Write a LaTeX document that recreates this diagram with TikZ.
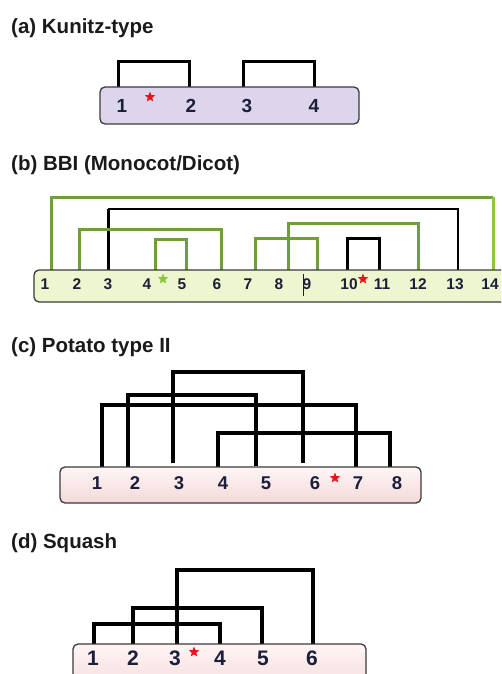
\documentclass[tikz,border=0pt]{standalone}
\usepackage{fontspec}
\setmainfont{Liberation Sans}
\usetikzlibrary{shapes.geometric}
\definecolor{titlecol}{HTML}{1A1A1A}
\definecolor{numcol}{HTML}{1B1F3A}
\definecolor{boxline}{HTML}{3A3A3A}
\definecolor{lilac}{HTML}{DDD5EC}
\definecolor{palegreen}{HTML}{EDF6CF}
\definecolor{blushtop}{HTML}{FFF5F5}
\definecolor{blushbot}{HTML}{F4D9D9}
\definecolor{bondgreen}{HTML}{6F9E3F}
\definecolor{brightgreen}{HTML}{8CC63F}
\definecolor{sitered}{HTML}{E8141C}
\begin{document}
\begin{tikzpicture}[x=1pt,y=-1pt,
  paneltitle/.style={anchor=west,inner sep=0,text=titlecol,
    font=\bfseries\fontsize{20.5}{20.5}\selectfont},
  num/.style={inner sep=0,text=numcol,font=\bfseries\fontsize{#1}{#1}\selectfont},
  num/.default=18,
  chain/.style={draw=boxline,line width=1.3,rounded corners=5,inner sep=0,
    rectangle},
  bond/.style={line width=#1,line join=miter,draw=black},
  bond/.default=3,
  gbond/.style={line width=3,line join=miter,draw=bondgreen},
  sitestar/.style={star,star points=5,star point ratio=2.3,inner sep=0,
    minimum size=#1,fill=sitered},
  sitestar/.default=11,
]
\useasboundingbox (0,0) rectangle (501,674);
\clip (0,0) rectangle (501,674);

% ---------------- (a) Kunitz-type ----------------
\node[paneltitle] (ta) at (11,28) {(a) Kunitz-type};
\coordinate (pa1) at (118,87);
\coordinate (pa2) at (189,87);
\coordinate (pa3) at (243,87);
\coordinate (pa4) at (314,87);
\draw[bond] (pa1) -- (pa1 |- 0,62) -| (pa2);
\draw[bond] (pa3) -- (pa3 |- 0,62) -| (pa4);
\node[chain,fill=lilac,minimum width=259,minimum height=37] (boxa) at (229.5,105.5) {};
\node[num=19] (a1) at (122,106) {1};
\node[num=19] (a2) at (191,106) {2};
\node[num=19] (a3) at (247,106) {3};
\node[num=19] (a4) at (314,106) {4};
\node[sitestar] (sa) at (150,97) {};

% ---------------- (b) BBI ----------------
\node[paneltitle] (tb) at (11,165) {(b) BBI (Monocot/Dicot)};
\coordinate (pb1) at (51,270);
\coordinate (pb2) at (79,270);
\coordinate (pb3) at (108,270);
\coordinate (pb4) at (155,270);
\coordinate (pb5) at (186,270);
\coordinate (pb6) at (221,270);
\coordinate (pb7) at (255,270);
\coordinate (pb8) at (288,270);
\coordinate (pb9) at (317,270);
\coordinate (pb10) at (347,270);
\coordinate (pb11) at (379,270);
\coordinate (pb12) at (418,270);
\coordinate (pb13) at (458,270);
\coordinate (pb14) at (493,270);
% black disulfide bonds
\draw[bond=2.2] (pb3 |- 0,209) -| (pb13);
\draw[bond=3] (pb3) -- (pb3 |- 0,209);
\draw[bond=3] (pb10) -- (pb10 |- 0,238) -| (pb11);
% green disulfide bonds
\draw[gbond] (pb1) -- (pb1 |- 0,197) -- (pb14 |- 0,197);
\draw[gbond,draw=brightgreen] (pb14 |- 0,197) -- (pb14);
\draw[gbond] (pb2) -- (pb2 |- 0,229) -| (pb6);
\draw[gbond] (pb8) -- (pb8 |- 0,223) -| (pb12);
\draw[gbond] (pb7) -- (pb7 |- 0,238) -| (pb9);
\draw[gbond] (pb4) -- (pb4 |- 0,239) -| (pb5);
\node[chain,fill=palegreen,minimum width=486,minimum height=32] (boxb) at (277,286) {};
\foreach \n/\x in {1/45,2/77,3/108,4/147,5/182,6/217,7/248,8/279,9/307,
                   10/349,11/382,12/418,13/455,14/490}
  \node[num=15.5] (b\n) at (\x,284) {\n};
\draw[numcol,line width=0.8] (303,274) -- (303,296);
\node[sitestar,fill=brightgreen] (sb1) at (163,279) {};
\node[sitestar] (sb2) at (363,279) {};

% ---------------- (c) Potato type II ----------------
\node[paneltitle] (tc) at (11,347) {(c) Potato type II};
\coordinate (pc1) at (102,467);
\coordinate (pc2) at (128,467);
\coordinate (pc3) at (173,463);
\coordinate (pc4) at (218,467);
\coordinate (pc5) at (256,466);
\coordinate (pc6) at (303,463);
\coordinate (pc7) at (356,467);
\coordinate (pc8) at (390,467);
\draw[bond=3.5] (pc3) -- (pc3 |- 0,372) -| (pc6);
\draw[bond=3.5] (pc2) -- (pc2 |- 0,395) -| (pc5);
\draw[bond=3.5] (pc1) -- (pc1 |- 0,405) -| (pc7);
\draw[bond=3.5] (pc4) -- (pc4 |- 0,433) -| (pc8);
\node[chain,top color=blushtop,bottom color=blushbot,minimum width=361,minimum height=36] (boxc) at (240.5,485) {};
\foreach \n/\x in {1/97,2/135,3/179,4/223,5/266,6/315,7/358,8/397}
  \node[num=18.5] (c\n) at (\x,483) {\n};
\node[sitestar] (sc) at (335,478) {};

% ---------------- (d) Squash ----------------
\node[paneltitle] (td) at (11,543) {(d) Squash};
\coordinate (pd1) at (94,644);
\coordinate (pd2) at (133,644);
\coordinate (pd3) at (177,644);
\coordinate (pd4) at (220,644);
\coordinate (pd5) at (262,644);
\coordinate (pd6) at (313,644);
\draw[bond=4] (pd3) -- (pd3 |- 0,570) -| (pd6);
\draw[bond=4] (pd2) -- (pd2 |- 0,608) -| (pd5);
\draw[bond=4] (pd1) -- (pd1 |- 0,624) -| (pd4);
\node[chain,top color=blushtop,bottom color=blushbot,minimum width=293,minimum height=50] (boxd) at (219.5,669) {};
\foreach \n/\x in {1/93,2/133,3/175,4/220,5/263,6/312}
  \node[num=21] (d\n) at (\x,658) {\n};
\node[sitestar] (sd) at (194,652) {};
\end{tikzpicture}
\end{document}
